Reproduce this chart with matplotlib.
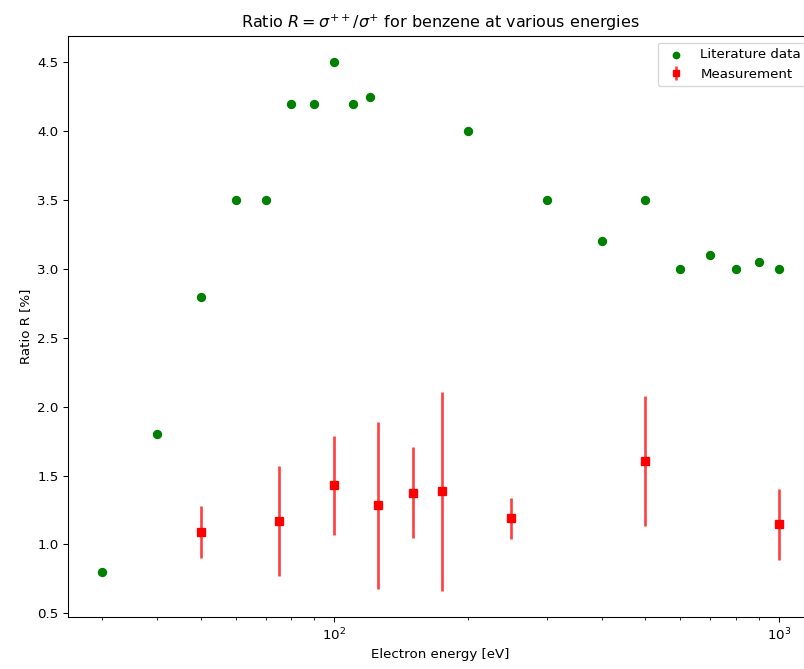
import numpy as np
import matplotlib
matplotlib.use("Agg")
import matplotlib.pyplot as plt

# literature values
lit_energy = [30, 40, 50, 60, 70, 80, 90, 100, 110, 120, 200, 300, 400, 500, 600, 700, 800, 900, 1000]
lit_ratio = [0.8, 1.8, 2.8, 3.5, 3.5, 4.2, 4.2, 4.5, 4.2, 4.25, 4.0, 3.5, 3.2, 3.5, 3.0, 3.1, 3.0, 3.05, 3.0]

# own measurement
meas_energy = [50, 75, 100, 125, 150, 175, 250, 500, 1000]
meas_ratio = [1.09, 1.17, 1.43, 1.285, 1.375, 1.385, 1.19, 1.605, 1.145]
meas_err = [0.19, 0.40, 0.36, 0.605, 0.33, 0.72, 0.15, 0.47, 0.26]

dpi = 96
fig = plt.figure(figsize=(804 / dpi, 669 / dpi), dpi=dpi)
ax = fig.add_axes([68 / 804, 52 / 669, 745 / 804, 581 / 669])

ax.scatter(lit_energy, lit_ratio, color='green', label='Literature data')
ax.errorbar(meas_energy, meas_ratio, yerr=meas_err, fmt='s', color='red',
            elinewidth=2, ecolor=(1, 0, 0, 0.75), label='Measurement')

ax.set_xscale('log')
ax.set_xlabel('Electron energy [eV]')
ax.set_ylabel('Ratio R [%]')
ax.set_title(r'Ratio $R = \sigma^{++}/\sigma^{+}$ for benzene at various energies')
ax.legend(loc='upper right', markerscale=0.8)

fig.savefig('out.png', dpi=dpi)
